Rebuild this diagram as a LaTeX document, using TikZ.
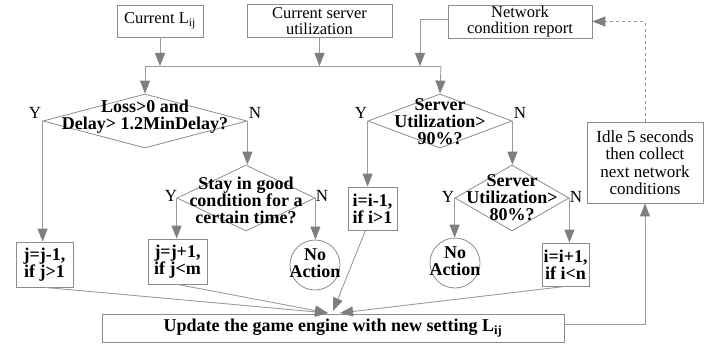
\documentclass[tikz,border=0pt]{standalone}
\usepackage{fontspec}
\setmainfont{Liberation Serif}
\usetikzlibrary{arrows.meta,shapes.geometric}
\definecolor{ln}{HTML}{9A9A9A}
\definecolor{ah}{HTML}{7F7F7F}
\definecolor{bd}{HTML}{8C8C8C}
\begin{document}
\begin{tikzpicture}[x=1pt,y=-1pt,
  box/.style={draw=bd,line width=0.8pt,rectangle,inner sep=0pt,align=center},
  reg/.style={font=\fontsize{16.5}{16.5}\selectfont},
  bld/.style={font=\bfseries\fontsize{18}{17}\selectfont},
  dtext/.style={inner sep=0pt,align=center,font=\bfseries\fontsize{18}{17}\selectfont},
  dia/.style={diamond,draw=bd,line width=0.8pt,inner sep=0pt},
  ring/.style={circle,draw=bd,line width=0.8pt,inner sep=0pt,minimum size=50pt},
  lab/.style={inner sep=0pt,font=\fontsize{17}{17}\selectfont},
  conn/.style={draw=ln,line width=0.9pt},
  arr/.style={conn,-{Triangle[length=13pt,width=10pt,color=ah]}},
]
\useasboundingbox (0,0) rectangle (722,345);

% top boxes
\node[box,reg,minimum width=86pt,minimum height=32pt] (cur) at (160,21) {Current L\textsubscript{ij}};
\node[box,reg,minimum width=145pt,minimum height=33pt] (srv) at (319.5,21) {Current server\\utilization};
\node[box,reg,minimum width=144pt,minimum height=33pt] (net) at (520,21.5) {Network\\condition report};

% bus
\coordinate (busL) at (145,66);
\coordinate (busR) at (441,66);
\coordinate (busN) at (420,66);

% decisions
\node[dia,minimum width=204pt,minimum height=54pt] (loss) at (145,121) {};
\node[dtext] (losst) at (145,117) {Loss>0 and\\Delay> 1.2MinDelay?};
\node[dia,minimum width=138pt,minimum height=66pt] (stay) at (246,198) {};
\node[dtext] (stayt) at (246,200) {Stay in good\\condition for a\\certain time?};
\node[dia,minimum width=144pt,minimum height=54pt] (s1) at (440,121) {};
\node[dtext] (s1t) at (440,122) {Server\\Utilization>\\90\%?};
\node[dia,minimum width=114pt,minimum height=66pt] (s2) at (512,198) {};
\node[dtext] (s2t) at (512,197.5) {Server\\Utilization>\\80\%?};

% Y/N labels
\node[lab] (ly1) at (35,113) {Y};
\node[lab] (ln1) at (255,113) {N};
\node[lab] (ly2) at (171,196) {Y};
\node[lab] (ln2) at (322,196) {N};
\node[lab] (ly3) at (361,113) {Y};
\node[lab] (ln3) at (520,113) {N};
\node[lab] (ly4) at (448,197) {Y};
\node[lab] (ln4) at (576,197) {N};

% action boxes
\node[box,bld,minimum width=57pt,minimum height=45pt] (jm) at (44.5,264.5) {j=j-1,\\if j>1};
\node[box,bld,minimum width=59pt,minimum height=45pt] (jp) at (177.5,261.5) {j=j+1,\\if j<m};
\node[box,bld,minimum width=49pt,minimum height=43pt] (im) at (372.5,208.5) {i=i-1,\\if i>1};
\node[box,bld,minimum width=47pt,minimum height=43pt] (ip) at (565.5,264.5) {i=i+1,\\if i<n};
\node[ring] (na1) at (315,265) {};
\node[dtext,font=\bfseries\fontsize{18}{16.5}\selectfont] (na1t) at (315,263) {No\\Action};
\node[ring] (na2) at (455,263) {};
\node[dtext,font=\bfseries\fontsize{18}{16.5}\selectfont] (na2t) at (455,261) {No\\Action};

\node[box,font=\fontsize{17}{17.5}\selectfont,minimum width=116pt,minimum height=81pt] (idle) at (645,162.5) {Idle 5 seconds\\then collect\\next network\\conditions};
\node[box,bld,minimum width=462pt,minimum height=28pt] (upd) at (333,328) {Update the game engine with new setting L\textsubscript{ij}};

\coordinate (tipA) at (328,313);
\coordinate (tipB) at (333,311);
\coordinate (tipC) at (340,313);

% connectors
\draw[arr] (cur.south) -- (cur.south |- busL);
\draw[arr] (srv.south) -- (srv.south |- busL);
\draw[arr] ([yshift=2.5pt]net.west) -| (busN);
\draw[conn] (busL) -- (busR);
\draw[arr] (busL) -- (loss.north);
\draw[arr] (busR) -- (s1.north);

\draw[arr] (loss.west) -- (loss.west |- jm.north);
\draw[arr] (loss.east) -- (loss.east |- stay.north);
\draw[arr] (stay.west) -- (stay.west |- jp.north);
\draw[arr] (stay.east) -- (stay.east |- na1.north);
\draw[arr] (s1.west) -- (s1.west |- im.north);
\draw[arr] (s1.east) -- (s1.east |- s2.north);
\draw[arr] (s2.west) -- (s2.west |- na2.north);
\draw[arr] (s2.east) -- (s2.east |- ip.north);

\draw[arr] (jm.south) -- (tipA);
\draw[arr] (jp.south) -- (tipA);
\draw[arr] ([xshift=-7pt]im.south) -- (tipB);
\draw[arr] (ip.south) -- (tipC);

\draw[arr] ([yshift=4pt]upd.east) -| (idle.south);
\draw[arr,dashed] (idle.north) |- (net.east);
\end{tikzpicture}
\end{document}
